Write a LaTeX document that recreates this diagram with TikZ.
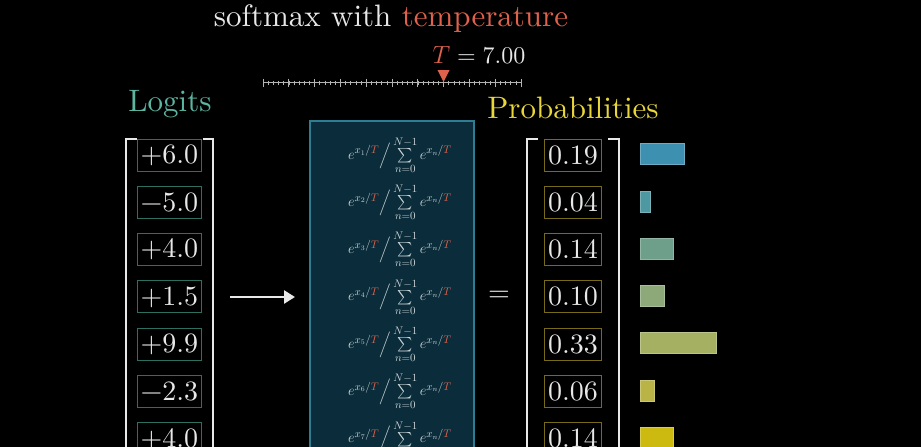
\documentclass[tikz,border=0pt]{standalone}
\usepackage{amsmath}
\usepackage{fontspec}
\setmainfont{lmroman10-regular}[Extension=.otf]
\usetikzlibrary{arrows.meta}
\definecolor{txtwhite}{HTML}{E8E8E8}
\definecolor{tempred}{HTML}{E0624C}
\definecolor{logitteal}{HTML}{5CB5A0}
\definecolor{logitedge}{HTML}{2F6F62}
\definecolor{probyellow}{HTML}{E8D63A}
\definecolor{probedge}{HTML}{776A18}
\definecolor{boxfill}{HTML}{0B2D3B}
\definecolor{boxedge}{HTML}{2E7D93}
\definecolor{formgray}{HTML}{CDD6D9}
\definecolor{ticgray}{HTML}{B4B4B4}
\definecolor{barA}{HTML}{3E90B0}
\definecolor{barB}{HTML}{4E98A2}
\definecolor{barC}{HTML}{6E9F8A}
\definecolor{barD}{HTML}{8DA97A}
\definecolor{barE}{HTML}{A5B062}
\definecolor{barF}{HTML}{BAB446}
\definecolor{barG}{HTML}{CDBA10}
\newcommand{\tT}{\textcolor{tempred}{T}}
\newcommand{\sm}[1]{$e^{x_{#1}/\tT}\Big/\sum\limits_{n=0}^{N-1}e^{x_n/\tT}$}
\tikzset{
  bigfont/.style={font=\fontsize{28}{32}\selectfont},
  headfont/.style={font=\fontsize{31}{34}\selectfont},
  logitbox/.style={bigfont, draw=logitedge, line width=1pt, text=txtwhite, minimum height=32pt, inner xsep=3pt, inner ysep=0pt, anchor=west},
  probbox/.style={bigfont, draw=probedge, line width=1pt, text=txtwhite, minimum height=32pt, inner xsep=3.5pt, inner ysep=0pt},
  formula/.style={text=formgray, font=\fontsize{15}{17}\selectfont},
  bracket/.style={draw=txtwhite, line width=2.6pt},
  bar/.style={draw=#1!75!white, line width=0.6pt, fill=#1, minimum height=21pt, inner sep=0pt, anchor=west}
}
\begin{document}
\begin{tikzpicture}[x=1pt,y=-1pt]
\useasboundingbox (0,0) rectangle (921,447);
\fill[black] (0,0) rectangle (921,447);
\clip (0,0) rectangle (921,447);
% title and slider
\node[text=txtwhite, headfont] (title) at (391,19) {softmax with \textcolor{tempred}{temperature}};
\node[text=txtwhite, font=\fontsize{24}{28}\selectfont] (tval) at (479,55) {$\tT\mathrel{\text{=}}\text{7.00}$};
\draw[ticgray, line width=0.8pt] (263,82.5) -- (521,82.5);
\foreach \k in {0,...,50} {
  \draw[ticgray, line width=0.6pt] (263+5.16*\k,80.5) -- (263+5.16*\k,84.5);
}
\foreach \k in {0,...,10} {
  \draw[ticgray, line width=0.9pt] (263+25.8*\k,78.5) -- (263+25.8*\k,86.5);
}
\fill[tempred] (437.5,70) -- (449.5,70) -- (443.5,82) -- cycle;
% headers
\node[text=logitteal, headfont] (hlogit) at (170,104) {Logits};
\node[text=probyellow, headfont] (hprob) at (573,108) {Probabilities};
% brackets
\draw[bracket] (137,139) -- (126,139) -- (126,460);
\draw[bracket] (203,139) -- (213,139) -- (213,460);
\draw[bracket] (538,139) -- (527,139) -- (527,460);
\draw[bracket] (608,139) -- (619,139) -- (619,460);
% logits
\node[logitbox] (l1) at (137,155) {+6.0};
\node[logitbox] (l2) at (137,202.3) {−5.0};
\node[logitbox] (l3) at (137,249.6) {+4.0};
\node[logitbox] (l4) at (137,296.9) {+1.5};
\node[logitbox] (l5) at (137,344.2) {+9.9};
\node[logitbox] (l6) at (137,391.5) {−2.3};
\node[logitbox] (l7) at (137,438.8) {+4.0};
% arrow
\coordinate (arrS) at (230,297);
\coordinate (arrE) at (295,297);
\draw[txtwhite, line width=2.6pt, -{Triangle[length=11pt,width=13pt]}] (arrS) -- (arrE);
% softmax box
\draw[boxedge, fill=boxfill, line width=1.6pt] (310,121) rectangle (474,470);
\node[formula] (f1) at (400,155) {\sm{1}};
\node[formula] (f2) at (400,202.3) {\sm{2}};
\node[formula] (f3) at (400,249.6) {\sm{3}};
\node[formula] (f4) at (400,296.9) {\sm{4}};
\node[formula] (f5) at (400,344.2) {\sm{5}};
\node[formula] (f6) at (400,391.5) {\sm{6}};
\node[formula] (f7) at (400,438.8) {\sm{7}};
\node[bigfont, text=txtwhite] (eq) at (499,296) {=};
% probabilities
\node[probbox] (p1) at (573,155) {0.19};
\node[probbox] (p2) at (573,202.3) {0.04};
\node[probbox] (p3) at (573,249.6) {0.14};
\node[probbox] (p4) at (573,296.9) {0.10};
\node[probbox] (p5) at (573,344.2) {0.33};
\node[probbox] (p6) at (573,391.5) {0.06};
\node[probbox] (p7) at (573,438.8) {0.14};
% bars
\node[bar=barA, minimum width=44pt] (b1) at (640,154) {};
\node[bar=barB, minimum width=10pt] (b2) at (640,201.3) {};
\node[bar=barC, minimum width=33pt] (b3) at (640,248.6) {};
\node[bar=barD, minimum width=24pt] (b4) at (640,296) {};
\node[bar=barE, minimum width=76pt] (b5) at (640,343.2) {};
\node[bar=barF, minimum width=14pt] (b6) at (640,390.5) {};
\node[bar=barG, minimum width=33pt] (b7) at (640,437.8) {};
\end{tikzpicture}
\end{document}
